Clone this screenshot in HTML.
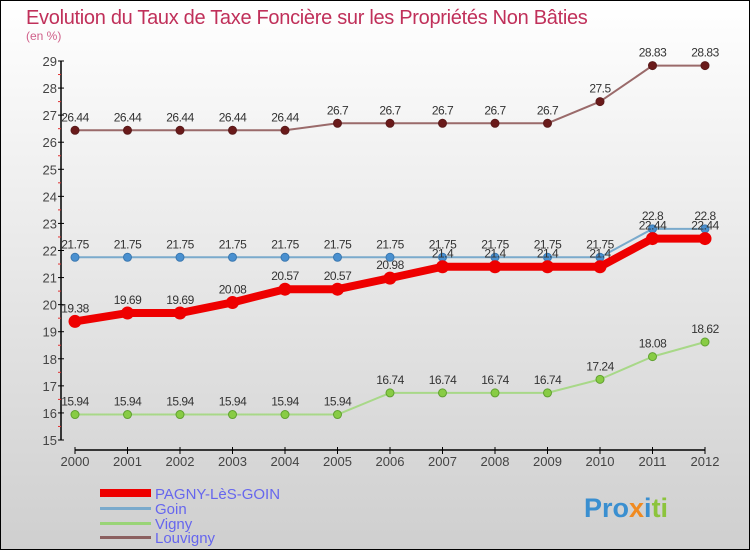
<!DOCTYPE html>
<html><head><meta charset="utf-8"><style>
html,body{margin:0;padding:0}
body{width:750px;height:550px;overflow:hidden;font-family:"Liberation Sans",sans-serif}
#c{position:absolute;left:0;top:0;width:748px;height:548px;border:1px solid #000;background:linear-gradient(#ffffff,#cfcfcf)}
svg{position:absolute;left:0;top:0}
</style></head><body>
<div id="c"></div>
<svg id="s" width="750" height="550">
<text x="26" y="24" font-size="20" letter-spacing="-0.3" fill="#c0305a">Evolution du Taux de Taxe Foncière sur les Propriétés Non Bâties</text>
<text x="26" y="40" font-size="12" fill="#d0608a">(en %)</text>
<g id="axes"></g><g id="series"></g>
<g>
<rect x="100" y="489" width="51" height="8" fill="#ee0000"/>
<text x="155" y="499" font-size="15" fill="#6666ee">PAGNY-LèS-GOIN</text>
<rect x="100" y="507" width="51" height="3" fill="#7aaacc"/>
<text x="155" y="514" font-size="15" fill="#6666ee">Goin</text>
<rect x="100" y="522" width="51" height="3" fill="#99d477"/>
<text x="155" y="529" font-size="15" fill="#6666ee">Vigny</text>
<rect x="100" y="536" width="51" height="3" fill="#8b6060"/>
<text x="155" y="543" font-size="15" fill="#6666ee">Louvigny</text>
</g>
<text x="584" y="517" font-size="27" font-weight="bold"><tspan fill="#3a8fd0">Pro</tspan><tspan fill="#f08a20">x</tspan><tspan fill="#3a8fd0">i</tspan><tspan fill="#8cc43c">ti</tspan></text>
</svg>
<script>
const years=[2000,2001,2002,2003,2004,2005,2006,2007,2008,2009,2010,2011,2012];
const pagny=[19.38,19.69,19.69,20.08,20.57,20.57,20.98,21.4,21.4,21.4,21.4,22.44,22.44];
const goin=[21.75,21.75,21.75,21.75,21.75,21.75,21.75,21.75,21.75,21.75,21.75,22.8,22.8];
const vigny=[15.94,15.94,15.94,15.94,15.94,15.94,16.74,16.74,16.74,16.74,17.24,18.08,18.62];
const louvigny=[26.44,26.44,26.44,26.44,26.44,26.7,26.7,26.7,26.7,26.7,27.5,28.83,28.83];
const yTicks=[15,16,17,18,19,20,21,22,23,24,25,26,27,28,29];
const NS="http://www.w3.org/2000/svg";
const xs=i=>75+i*52.5;
const ys=v=>440-(v-15)*(379/14);
function mk(p,t,a){const e=document.createElementNS(NS,t);for(const k in a)e.setAttribute(k,a[k]);p.appendChild(e);return e;}
const ax=document.getElementById('axes'),sg=document.getElementById('series');
let e=mk(ax,'line',{x1:61,y1:ys(29),x2:61,y2:ys(15),stroke:'#000','stroke-width':1.5});

yTicks.forEach(t=>{
 let l=mk(ax,'line',{x1:58,x2:64,y1:ys(t),y2:ys(t),stroke:'#000'});
 
 let m=mk(ax,'line',{x1:58,x2:61,y1:ys(t+0.5),y2:ys(t+0.5),stroke:'#e03030'});
 if(t===29)m.remove();
 let tx=mk(ax,'text',{x:57,y:ys(t)+5,'text-anchor':'end','font-size':13,fill:'#444'});
 tx.textContent=t;
});
e=mk(ax,'line',{x1:75,y1:450,x2:705,y2:450,stroke:'#000','stroke-width':1.5});

years.forEach((y,i)=>{
 let l=mk(ax,'line',{x1:xs(i),x2:xs(i),y1:447,y2:454,stroke:'#000'});
 
 let tx=mk(ax,'text',{x:xs(i),y:466,'text-anchor':'middle','font-size':13,fill:'#444'});
 tx.textContent=y;
});
function series(vals,name,color,w,dot,dotStroke){
 const g=mk(sg,'g',{});
 const pl=mk(g,'polyline',{points:vals.map((v,i)=>xs(i)+','+ys(v)).join(' '),fill:'none',stroke:color,'stroke-width':w,'stroke-linejoin':'round'});
 
 vals.forEach((v,i)=>{
  const c=mk(g,'circle',{cx:xs(i),cy:ys(v),r:dot,fill:color,stroke:dotStroke,'stroke-width':1});
  
  const t=mk(g,'text',{x:xs(i),y:ys(v)-9,'text-anchor':'middle','font-size':12,fill:'#333','letter-spacing':'-0.5'});
  t.textContent=v;
 });
}
series(louvigny,'louvigny','#9a6a6a',2,4,'#5a1a1a');
sg.lastChild.querySelectorAll('circle').forEach(c=>c.setAttribute('fill','#6a1a1a'));
series(goin,'goin','#7aaacc',2,4,'#3a78b0');
sg.lastChild.querySelectorAll('circle').forEach(c=>c.setAttribute('fill','#4a90d0'));
series(vigny,'vigny','#a8d888',2,4,'#60a030');
sg.lastChild.querySelectorAll('circle').forEach(c=>c.setAttribute('fill','#88cc44'));
series(pagny,'pagny','#ee0000',8,6,'#ee0000');
</script>
</body></html>
